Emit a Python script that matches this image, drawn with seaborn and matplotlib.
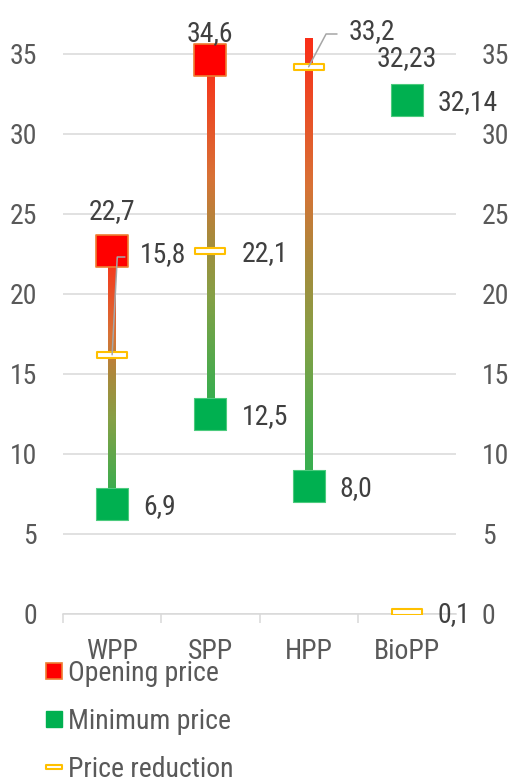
import numpy as np
import pandas as pd
import matplotlib
matplotlib.use("Agg")
import matplotlib.pyplot as plt
from matplotlib.colors import LinearSegmentedColormap
from matplotlib.path import Path
from matplotlib.lines import Line2D
import seaborn as sns

# data
plants = ["WPP", "SPP", "HPP", "BioPP"]
opening = [22.7, 34.6, 41.2, 32.23]
minimum = [6.9, 12.5, 8.0, 32.14]
reduction = [15.8, 22.1, 33.2, 0.1]
reduction_mark = [16.2, 22.7, 34.2, 0.1]

YTOP = 36
GREY = "#595959"
DARK = "#404040"
LINE = "#D9D9D9"

sns.set_theme(style="white")
plt.rcParams["font.family"] = ["Roboto Condensed", "Liberation Sans", "DejaVu Sans"]

fig = plt.figure(figsize=(5.12, 7.82), dpi=100)
ax = fig.add_axes([63 / 512, 168 / 782, 393 / 512, 576 / 782])

x = np.arange(len(plants))
df = pd.DataFrame({"plant": plants, "x": x, "opening": opening,
                   "minimum": minimum, "reduction": reduction_mark})

# red -> green gradient sticks
cmap = LinearSegmentedColormap.from_list("stick", [
    (0.0, "#35AE4F"), (0.06, "#3CAD4F"), (0.33, "#85A046"),
    (0.5, "#A88A3C"), (0.67, "#D87236"), (1.0, "#FA2E18")])
grad = np.linspace(0, 1, 256).reshape(-1, 1)
half = 0.038
for xi, lo, hi in zip(x, minimum, opening):
    hi = min(hi, YTOP)
    if hi - lo < 0.5:
        continue
    ax.imshow(grad, extent=(xi - half, xi + half, lo, hi), origin="lower",
              aspect="auto", cmap=cmap, zorder=2)

# opening marker is hidden under the minimum one when the two nearly coincide
shown = df[(df["opening"] - df["minimum"]) > 0.5]
sns.scatterplot(data=shown, x="x", y="opening", marker="s", s=560, color="#FF0000",
                edgecolor="#ED7D31", linewidth=1.2, ax=ax, zorder=3)
sns.scatterplot(data=df, x="x", y="minimum", marker="s", s=560, color="#00B050",
                edgecolor="#4CCB7E", linewidth=0.8, ax=ax, zorder=4)

rect = Path([(-1, -0.23), (1, -0.23), (1, 0.23), (-1, 0.23), (-1, -0.23)],
            [Path.MOVETO, Path.LINETO, Path.LINETO, Path.LINETO, Path.CLOSEPOLY])
sns.scatterplot(data=df, x="x", y="reduction", marker=rect, s=470, color="white",
                edgecolor="#FFC000", linewidth=1.5, ax=ax, zorder=5)

ax.set_xlim(-0.5, 3.5)
ax.set_ylim(0, YTOP)


def fmt(v):
    return str(v).replace(".", ",")


lab = dict(fontsize=20, color=DARK, textcoords="offset pixels", annotation_clip=False)

# opening price labels above the markers
for xi, v in zip(x, opening):
    if v > YTOP:
        continue
    ax.annotate(fmt(v), xy=(xi, min(v, 33.8)), xytext=(0, 32), ha="center",
                va="baseline", zorder=6, **lab)

# minimum price labels to the right
for xi, v in zip(x, minimum):
    ax.annotate(fmt(v), xy=(xi, v), xytext=(31, -10), ha="left", va="baseline",
                zorder=6, **lab)

# price reduction labels, two of them moved with leader lines
moved = {0: ((28, 93), 87, 8.6), 2: ((40, 28), 62, 6)}
for xi, v, m in zip(x, reduction, reduction_mark):
    if xi in moved:
        off, angb, shr = moved[xi]
        ax.annotate(fmt(v), xy=(xi, m), xytext=off, ha="left", va="baseline", zorder=6,
                    arrowprops=dict(arrowstyle="-", color="#A6A6A6", lw=1.1,
                                    connectionstyle=f"angle,angleA=0,angleB={angb}",
                                    shrinkA=shr, shrinkB=0, relpos=(0, 0.4)),
                    **lab)
    else:
        ax.annotate(fmt(v), xy=(xi, m), xytext=(31, -10), ha="left", va="baseline",
                    zorder=6, **lab)

# axes styling
ticks = np.arange(0, 36, 5)
ax.set_yticks(ticks)
ax.set_yticklabels([str(t) for t in ticks])
ax.set_xticks(x)
ax.set_xticklabels(plants)
ax.set_xticks([-0.5, 0.5, 1.5, 2.5], minor=True)
ax.set_xlabel("")
ax.set_ylabel("")
ax.yaxis.grid(True, color=LINE, lw=1.1)
ax.set_axisbelow(True)
for s in ["top", "right", "left"]:
    ax.spines[s].set_visible(False)
ax.spines["bottom"].set_color(LINE)
ax.spines["bottom"].set_linewidth(1.1)
ax.tick_params(axis="y", length=0, pad=18.7, labelsize=20, labelcolor=GREY)
ax.tick_params(axis="x", which="major", length=0, pad=17, labelsize=20, labelcolor=GREY)
ax.tick_params(axis="x", which="minor", length=6.5, width=1.1, color=LINE, bottom=True)

ax2 = ax.twinx()
ax2.set_ylim(0, YTOP)
ax2.set_yticks(ticks)
ax2.set_yticklabels([str(t) for t in ticks])
ax2.tick_params(axis="y", length=0, pad=18.7, labelsize=20, labelcolor=GREY)
ax2.grid(False)
for s in ax2.spines.values():
    s.set_visible(False)

handles = [
    Line2D([], [], ls="none", marker="s", markersize=12, markerfacecolor="#FF0000",
           markeredgecolor="#ED7D31", markeredgewidth=1.2),
    Line2D([], [], ls="none", marker="s", markersize=12, markerfacecolor="#00B050",
           markeredgecolor="#00B050"),
    Line2D([], [], ls="none", marker=rect, markersize=12, markerfacecolor="white",
           markeredgecolor="#FFC000", markeredgewidth=1.5),
]
fig.legend(handles, ["Opening price", "Minimum price", "Price reduction"],
           loc="upper left", bbox_to_anchor=(46 / 512, 1 - 660 / 782), frameon=False,
           borderpad=0, borderaxespad=0, handlelength=0.6, handletextpad=0.2,
           labelspacing=0.75, fontsize=20, labelcolor=GREY)

fig.savefig("out.png", dpi=100)
